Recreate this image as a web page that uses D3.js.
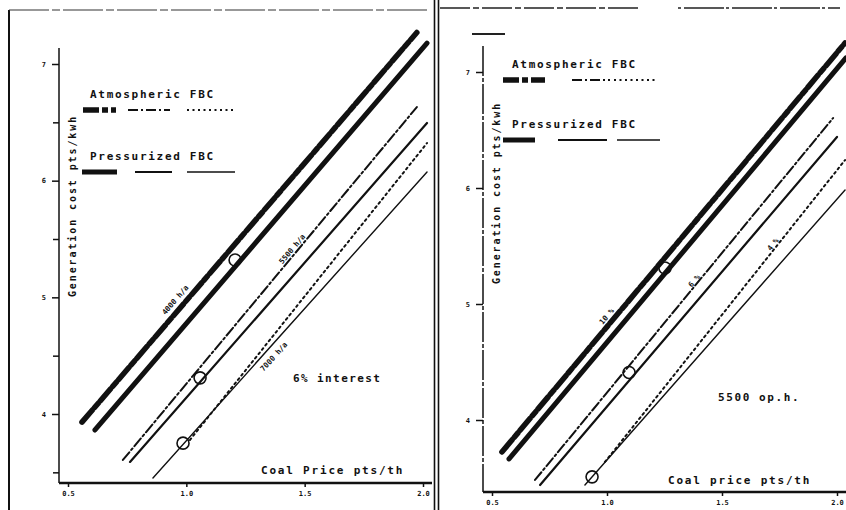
<!DOCTYPE html>
<html>
<head>
<meta charset="utf-8">
<script src="https://cdn.jsdelivr.net/npm/d3@7"></script>
<style>
  body { margin: 0; background: #fff; }
  text { font-family: "DejaVu Sans Mono", monospace; font-weight: bold; fill: #111; }
</style>
</head>
<body>
<div id="chart"></div>
<script>
// values
const coalPrice = [0.5, 1.0, 1.5, 2.0]
const costTicks = [4, 5, 6, 7]
const costMinor = [3.5, 4.5, 5.5, 6.5]

const hoursCases = ["4000 h/a", "5500 h/a", "7000 h/a"]
const interestCases = ["10 %", "6 %", "4 %"]

// each line: [price0, cost0, price1, cost1]
const leftAtmospheric = [[0.559, 3.93, 1.974, 7.27], [0.732, 3.606, 1.974, 6.631], [1.015, 3.777, 2.017, 6.322]]
const leftPressurized = [[0.614, 3.863, 2.017, 7.179], [0.762, 3.589, 2.017, 6.494], [0.859, 3.452, 2.017, 6.074]]
const leftMarkers = [[1.206, 5.32], [1.058, 4.31], [0.986, 3.75]]

const rightAtmospheric = [[0.543, 3.724, 2.035, 7.25], [0.687, 3.483, 1.983, 6.603], [0.991, 3.638, 2.035, 6.241]]
const rightPressurized = [[0.574, 3.664, 2.039, 7.121], [0.709, 3.44, 2.0, 6.44], [0.904, 3.44, 2.035, 5.983]]
const rightMarkers = [[1.252, 5.31], [1.096, 4.41], [0.935, 3.51]]

const atmStyles = [
  { w: 5.5, dash: "16,3,6,3" },
  { w: 2, dash: "10,3,2,3" },
  { w: 2, dash: "2,3.5" },
]
const presStyles = [{ w: 5 }, { w: 2.2 }, { w: 1.4 }]

const width = 846
const height = 510

const svg = d3.select("#chart")
  .append("svg")
    .attr("width", width)
    .attr("height", height)

// page frame from the scan
svg.append("line").attr("x1", 9).attr("x2", 9).attr("y1", 10).attr("y2", 510)
  .attr("stroke", "#111").attr("stroke-width", 2)
svg.append("line").attr("x1", 9).attr("x2", 430).attr("y1", 10).attr("y2", 10)
  .attr("stroke", "#333").attr("stroke-width", 1.2).attr("stroke-dasharray", "40,3,8,3")
svg.append("line").attr("x1", 434.5).attr("x2", 434.5).attr("y1", 0).attr("y2", 510)
  .attr("stroke", "#111").attr("stroke-width", 1.6)
svg.append("line").attr("x1", 438.5).attr("x2", 438.5).attr("y1", 0).attr("y2", 510)
  .attr("stroke", "#111").attr("stroke-width", 1.6)
svg.append("line").attr("x1", 440).attr("x2", 640).attr("y1", 8).attr("y2", 8)
  .attr("stroke", "#222").attr("stroke-width", 1.5).attr("stroke-dasharray", "30,3,6,3")
svg.append("line").attr("x1", 678).attr("x2", 840).attr("y1", 8).attr("y2", 8)
  .attr("stroke", "#222").attr("stroke-width", 1.5).attr("stroke-dasharray", "3,3,40,2")
svg.append("line").attr("x1", 472).attr("x2", 505).attr("y1", 34).attr("y2", 34)
  .attr("stroke", "#222").attr("stroke-width", 2)

function drawPanel(p, atm, pres, markers, cases) {
  const xScale = d3.scaleLinear().domain([0.5, 2.0]).range([p.xl, p.xr])
  const yScale = d3.scaleLinear().domain([4, 7]).range([p.yb, p.yt])
  const g = svg.append("g")

  // y axis
  g.append("line")
    .attr("x1", p.ax).attr("x2", p.ax).attr("y1", p.axTop).attr("y2", p.axBottom)
    .attr("stroke", "#111").attr("stroke-width", 1.5)
    .attr("stroke-dasharray", p.yDash)
  const yAxis = g.append("g")
    .attr("transform", `translate(${p.ax},0)`)
    .call(d3.axisLeft(yScale).tickValues(costTicks).tickSize(7).tickPadding(6).tickFormat(d3.format("d")))
  const yMinor = g.append("g")
    .attr("transform", `translate(${p.ax},0)`)
    .call(d3.axisLeft(yScale).tickValues(p.minor ? costMinor : []).tickSize(6).tickFormat(""))
  ;[yAxis, yMinor].forEach(a => {
    a.select(".domain").remove()
    a.selectAll("line").attr("stroke", "#111").attr("stroke-width", 1.5)
    a.selectAll("text").style("font-size", "7px")
  })

  // x axis
  g.append("line")
    .attr("x1", p.ax).attr("x2", p.xEnd).attr("y1", p.axBottom).attr("y2", p.axBottom)
    .attr("stroke", "#111").attr("stroke-width", 2.5)
  const xAxis = g.append("g")
    .attr("transform", `translate(0,${p.axBottom})`)
    .call(d3.axisBottom(xScale).tickValues(coalPrice).tickSize(4).tickPadding(4).tickFormat(d3.format(".1f")))
  xAxis.select(".domain").remove()
  xAxis.selectAll("line").attr("stroke", "#111").attr("stroke-width", 1.5)
  xAxis.selectAll("text").style("font-size", "7px")

  const line = d3.line().x(d => xScale(d[0])).y(d => yScale(d[1]))
  const pts = s => [[s[0], s[1]], [s[2], s[3]]]

  g.selectAll(".pres").data(pres).join("path")
    .attr("d", d => line(pts(d)))
    .attr("fill", "none").attr("stroke", "#111")
    .attr("stroke-width", (d, i) => presStyles[i].w)
    .attr("stroke-linecap", "round")

  g.selectAll(".atm").data(atm).join("path")
    .attr("d", d => line(pts(d)))
    .attr("fill", "none").attr("stroke", "#111")
    .attr("stroke-width", (d, i) => atmStyles[i].w)
    .attr("stroke-dasharray", (d, i) => atmStyles[i].dash)
    .attr("stroke-linecap", "round")

  g.selectAll(".mark").data(markers).join("circle")
    .attr("cx", d => xScale(d[0]))
    .attr("cy", d => yScale(d[1]))
    .attr("r", 6)
    .attr("fill", "none").attr("stroke", "#111").attr("stroke-width", 1.6)

  // case labels written along the lines
  cases.forEach((label, i) => {
    const lp = p.labels[i]
    const s = (lp.on === "atm" ? atm : pres)[i]
    const x0 = xScale(s[0]), y0 = yScale(s[1]), x1 = xScale(s[2]), y1 = yScale(s[3])
    const t = (lp.x - x0) / (x1 - x0)
    const px = x0 + t * (x1 - x0), py = y0 + t * (y1 - y0)
    const len = Math.hypot(x1 - x0, y1 - y0)
    const nx = (y1 - y0) / len, ny = -(x1 - x0) / len
    const angle = Math.atan2(y1 - y0, x1 - x0) * 180 / Math.PI
    g.append("text")
      .attr("transform", `translate(${px + nx * lp.off},${py + ny * lp.off}) rotate(${angle})`)
      .attr("text-anchor", "middle")
      .attr("dy", "0.35em")
      .style("font-size", "7.5px")
      .text(label)
  })

  // legend
  const legend = g.append("g")
  legend.append("text").attr("x", p.leg.x + 8).attr("y", p.leg.atmY)
    .style("font-size", "11px").style("letter-spacing", "1.7px").text("Atmospheric FBC")
  legend.append("text").attr("x", p.leg.x + 8).attr("y", p.leg.presY)
    .style("font-size", "11px").style("letter-spacing", "1.7px").text("Pressurized FBC")
  p.leg.atmSegs.forEach((seg, i) => {
    legend.append("line")
      .attr("x1", seg[0]).attr("x2", seg[1])
      .attr("y1", p.leg.atmY + 12).attr("y2", p.leg.atmY + 12)
      .attr("stroke", "#111")
      .attr("stroke-width", atmStyles[i].w)
      .attr("stroke-dasharray", atmStyles[i].dash)
  })
  p.leg.presSegs.forEach((seg, i) => {
    legend.append("line")
      .attr("x1", seg[0]).attr("x2", seg[1])
      .attr("y1", p.leg.presY + 12).attr("y2", p.leg.presY + 12)
      .attr("stroke", "#111")
      .attr("stroke-width", presStyles[i].w)
  })

  // titles
  g.append("text")
    .attr("transform", `translate(${p.yTitle[0]},${p.yTitle[1]}) rotate(-90)`)
    .attr("text-anchor", "middle")
    .style("font-size", "10px").style("letter-spacing", "1.9px")
    .text("Generation cost pts/kwh")
  g.append("text")
    .attr("x", p.xTitle[0]).attr("y", p.xTitle[1])
    .style("font-size", "11px").style("letter-spacing", "1.8px")
    .text(p.xTitleText)
  g.append("text")
    .attr("x", p.note[0]).attr("y", p.note[1])
    .style("font-size", "11px").style("letter-spacing", p.noteSpacing)
    .text(p.noteText)
}

drawPanel({
  xl: 68, xr: 423, yb: 414, yt: 64,
  ax: 59, axTop: 48, axBottom: 483, xEnd: 432, minor: true, yDash: null,
  labels: [{ on: "atm", x: 182, off: 9 }, { on: "atm", x: 296, off: 5 }, { on: "pres", x: 267, off: -9 }],
  leg: {
    x: 82, atmY: 98, presY: 160,
    atmSegs: [[83, 116], [128, 170], [187, 233]],
    presSegs: [[82, 117], [135, 172], [187, 235]],
  },
  yTitle: [76, 206],
  xTitle: [261, 474], xTitleText: "Coal Price pts/th",
  note: [293, 382], noteText: "6% interest", noteSpacing: "1.4px",
}, leftAtmospheric, leftPressurized, leftMarkers, hoursCases)

drawPanel({
  xl: 492, xr: 837, yb: 420, yt: 72,
  ax: 483, axTop: 46, axBottom: 492, xEnd: 846, minor: false, yDash: "30,2,4,2",
  labels: [{ on: "atm", x: 612, off: 7 }, { on: "atm", x: 697, off: 4 }, { on: "atm", x: 776, off: 4 }],
  leg: {
    x: 504, atmY: 68, presY: 128,
    atmSegs: [[503, 545], [572, 610], [614, 658]],
    presSegs: [[503, 535], [558, 607], [617, 660]],
  },
  yTitle: [500, 193],
  xTitle: [668, 484], xTitleText: "Coal price pts/th",
  note: [718, 401], noteText: "5500 op.h.", noteSpacing: "1.6px",
}, rightAtmospheric, rightPressurized, rightMarkers, interestCases)
</script>
</body>
</html>
